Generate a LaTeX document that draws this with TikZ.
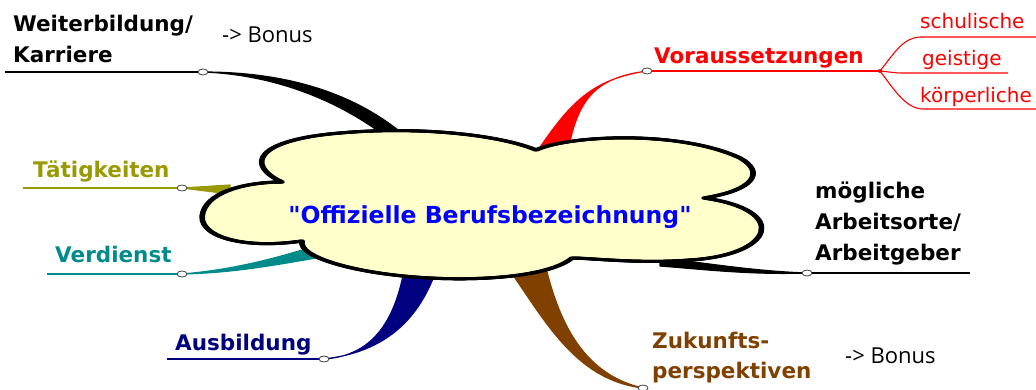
\documentclass[tikz,border=0pt]{standalone}
\usepackage{fontspec}
\setmainfont{DejaVu Sans}
\newfontfamily\titlefont{DejaVu Sans}
\newfontfamily\bonusfont{Open Sans}
\usetikzlibrary{shapes.geometric}
\definecolor{cloudfill}{RGB}{255,255,204}
\definecolor{olivec}{RGB}{153,153,0}
\definecolor{tealc}{RGB}{0,139,139}
\definecolor{navyc}{RGB}{0,0,128}
\definecolor{brownc}{RGB}{128,64,0}
\definecolor{redc}{RGB}{255,0,0}
\definecolor{bluec}{RGB}{0,0,255}
\definecolor{knotgray}{RGB}{64,64,64}
\def\mycloudpath{(282,182) .. controls (245,165) and (255,140) .. (340,133)
 .. controls (420,126) and (500,135) .. (536,150)
 .. controls (570,135) and (680,130) .. (740,158)
 .. controls (765,172) and (755,190) .. (704,198)
 .. controls (790,210) and (775,255) .. (690,260)
 .. controls (640,264) and (590,258) .. (572,258)
 .. controls (540,285) and (400,285) .. (330,262)
 .. controls (315,257) and (300,250) .. (302,241)
 .. controls (240,250) and (195,235) .. (203,212)
 .. controls (210,190) and (250,182) .. (282,182) -- cycle}
\begin{document}
\begin{tikzpicture}[x=1pt,y=-1pt,
  knot/.style={ellipse,draw=knotgray,fill=white,line width=0.8pt,minimum width=10pt,minimum height=6pt,inner sep=0pt},
  lbl/.style={anchor=base west,inner sep=0pt,font=\fontsize{21.5}{31}\selectfont\bfseries,align=left},
  sublbl/.style={anchor=base west,inner sep=0pt,font=\fontsize{20}{24}\selectfont,text=redc},
  bonus/.style={anchor=base west,inner sep=0pt,font=\bonusfont\fontsize{22}{26}\selectfont},
  uline/.style={line width=1.5pt},
  subline/.style={line width=1.1pt,draw=redc},
  taper/.style={line width=1.2pt,line join=round},
  cloudline/.style={draw=black,line width=3pt,line join=round}]
\useasboundingbox (0,0) rectangle (1036,389);
% anchor points of branches
\coordinate (pw) at (203,72);
\coordinate (pt) at (182,188);
\coordinate (pv) at (182,274);
\coordinate (pa) at (324,359);
\coordinate (pz) at (643,388);
\coordinate (pm) at (807,273);
\coordinate (pvo) at (647,71);
% tapered branches
\filldraw[taper,black] (pw) .. controls (300,72) and (365,100) .. (410,140) -- (390,140) .. controls (350,108) and (285,75) .. (pw) -- cycle;
\filldraw[taper,olivec] (pt) -- (230,185) -- (230,194) -- cycle;
\filldraw[taper,tealc] (pv) .. controls (230,270) and (270,260) .. (312,247) -- (316,258) .. controls (270,266) and (230,273) .. (pv) -- cycle;
\filldraw[taper,navyc] (pa) .. controls (370,356) and (395,325) .. (405,265) -- (438,265) .. controls (420,320) and (385,352) .. (pa) -- cycle;
\filldraw[taper,brownc] (508,268) .. controls (545,320) and (575,380) .. (pz) .. controls (585,375) and (560,325) .. (546,268) -- cycle;
\filldraw[taper,black] (660,258) .. controls (700,262) and (750,271) .. (pm) .. controls (750,275) and (700,269) .. (660,266) -- cycle;
\filldraw[taper,redc] (528,165) .. controls (565,110) and (585,80) .. (pvo) .. controls (595,78) and (575,98) .. (566,165) -- cycle;
% cloud
\fill[cloudfill] \mycloudpath;
\draw[cloudline,xshift=-1.3pt] \mycloudpath;
\draw[cloudline,xshift=1.3pt] \mycloudpath;
\draw[cloudline] \mycloudpath;
\node[anchor=base,inner sep=0pt,font=\titlefont\fontsize{23.5}{28}\selectfont\bfseries,text=bluec] (title) at (490,223) {"Offizielle Berufsbezeichnung"};
% knots
\node[knot] (kw) at (pw) {};
\node[knot] (kt) at (pt) {};
\node[knot] (kv) at (pv) {};
\node[knot] (ka) at (pa) {};
\node[knot] (kz) at (pz) {};
\node[knot] (km) at (pm) {};
\node[knot] (kvo) at (pvo) {};
% underlines
\coordinate (ew) at (5,72);
\coordinate (et) at (23,188);
\coordinate (ev) at (47,274);
\coordinate (ea) at (167,359);
\coordinate (em) at (970,273);
\coordinate (J) at (880,71);
\draw[uline,black] (ew) -- (kw);
\draw[uline,olivec] (et) -- (kt);
\draw[uline,tealc] (ev) -- (kv);
\draw[uline,navyc] (ea) -- (ka);
\draw[uline,black] (km) -- (em);
\draw[uline,redc] (kvo) -- (J);
% sub branches
\coordinate (s1) at (920,37);
\coordinate (s1e) at (1036,37);
\coordinate (s2) at (902,73);
\coordinate (s2e) at (1008,73);
\coordinate (s3) at (922,109);
\coordinate (s3e) at (1036,109);
\draw[subline] (J) .. controls (895,52) and (903,38) .. (s1) -- (s1e);
\draw[subline] (J) .. controls (890,72) and (895,73) .. (s2) -- (s2e);
\draw[subline] (J) .. controls (893,88) and (905,108) .. (s3) -- (s3e);
\fill[redc] (J) circle (2pt);
% labels (base anchor = baseline of last line)
\node[lbl,text=black] (lweiter) at (13,62) {Weiterbildung/\\Karriere};
\node[bonus] (bonus1) at (222,42) {-> Bonus};
\node[lbl,text=olivec] (ltaet) at (33,177) {Tätigkeiten};
\node[lbl,text=tealc] (lverd) at (55,262) {Verdienst};
\node[lbl,text=navyc] (lausb) at (175,350) {Ausbildung};
\node[lbl,text=brownc,font=\fontsize{21.5}{30}\selectfont\bfseries] (lzuk) at (652,378) {Zukunfts-\\perspektiven};
\node[bonus] (bonus2) at (845,363) {-> Bonus};
\node[lbl,text=black] (lmoeg) at (815,260) {mögliche\\Arbeitsorte/\\Arbeitgeber};
\node[lbl,text=redc] (lvor) at (654,63) {Voraussetzungen};
\node[sublbl] (lschul) at (920,28) {schulische};
\node[sublbl] (lgeist) at (922,65) {geistige};
\node[sublbl] (lkoerp) at (920,102) {körperliche};
\end{tikzpicture}
\end{document}
